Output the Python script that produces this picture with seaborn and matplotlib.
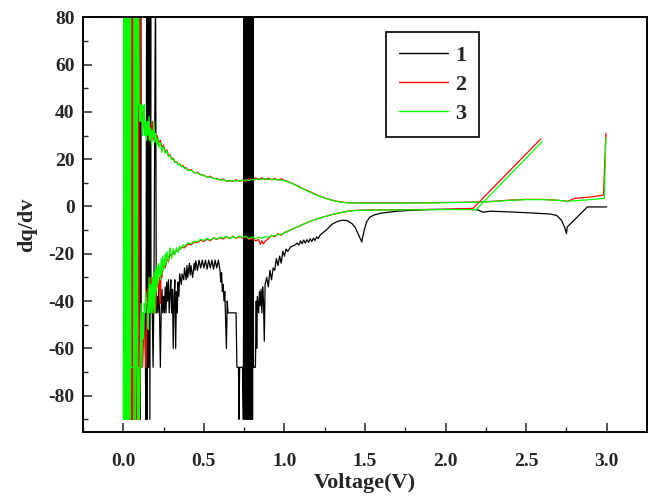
import matplotlib
matplotlib.use("Agg")
import matplotlib.pyplot as plt
import seaborn as sns
import pandas as pd
from matplotlib.ticker import MultipleLocator, FormatStrFormatter

# ---------------- data (Voltage V, dq/dv) ----------------
curve_names = ["1", "2", "3"]
curve_colors = ["#000000", "#ff0000", "#00ff00"]

black_pts = [
    (0.045, 95), (0.047, -90), (0.05, 95), (0.053, -90), (0.056, 95), (0.06, -68), (0.063, 95), (0.066, -90), (0.075, 95), (0.077, -68),
    (0.09, -68), (0.1, 95), (0.104, -90), (0.108, 95), (0.112, -68), (0.125, -45), (0.135, -45), (0.14, -90), (0.145, 95), (0.148, -90),
    (0.152, 95), (0.156, -68), (0.16, 95), (0.165, -90), (0.17, 95), (0.172, -45), (0.18, -45), (0.185, -68), (0.19, -38), (0.2, 95),
    (0.205, -45), (0.21, -38), (0.215, -45), (0.22, -35), (0.225, -45), (0.23, -68), (0.235, -45), (0.24, -35), (0.245, -45), (0.25, -38),
    (0.255, -45), (0.26, -34), (0.265, -45), (0.27, -32), (0.275, -40), (0.28, -31), (0.285, -45), (0.29, -37), (0.295, -31), (0.3, -45),
    (0.305, -35), (0.31, -60), (0.315, -38), (0.32, -31), (0.325, -60), (0.33, -36), (0.335, -45), (0.34, -32), (0.345, -38), (0.35, -28.5),
    (0.36, -33), (0.365, -28.5), (0.375, -31), (0.38, -26), (0.39, -31), (0.395, -25), (0.4, -30), (0.41, -24), (0.415, -29), (0.42, -25),
    (0.43, -30), (0.44, -24), (0.445, -27), (0.45, -23), (0.46, -27), (0.47, -22.7), (0.48, -26), (0.49, -22.7), (0.5, -26), (0.51, -22.7),
    (0.52, -26.5), (0.53, -22.7), (0.54, -26), (0.55, -22.7), (0.56, -26.5), (0.57, -22.7), (0.58, -26), (0.59, -22.7), (0.6, -27), (0.605, -32),
    (0.61, -28), (0.615, -36), (0.62, -33), (0.625, -40), (0.63, -36), (0.64, -60), (0.645, -40), (0.65, -45), (0.7, -45), (0.705, -68),
    (0.715, -68), (0.718, -90), (0.722, -68), (0.74, -68), (0.745, -90), (0.75, 95), (0.754, -90), (0.758, 95), (0.762, -90), (0.766, 95),
    (0.77, -90), (0.774, 95), (0.778, -90), (0.782, 95), (0.786, -90), (0.79, 95), (0.794, -90), (0.798, 95), (0.802, -90), (0.806, 95),
    (0.808, -68), (0.82, -68), (0.825, -40), (0.828, -60), (0.832, -38), (0.84, -45), (0.845, -36), (0.85, -42), (0.855, -35), (0.86, -45),
    (0.865, -34), (0.87, -40), (0.875, -57), (0.88, -33), (0.89, -30), (0.9, -34), (0.91, -27), (0.92, -31), (0.93, -26), (0.94, -27),
    (0.95, -22), (0.96, -25), (0.97, -21), (0.98, -24), (0.99, -19), (1.0, -21), (1.01, -18), (1.02, -19), (1.04, -17), (1.06, -16.5),
    (1.08, -15.5), (1.09, -16.3), (1.1, -14.5), (1.11, -15.8), (1.12, -14.2), (1.13, -15.5), (1.14, -14), (1.15, -15.2), (1.16, -13.6), (1.17, -14.8),
    (1.18, -13.4), (1.19, -14.4), (1.2, -12.8), (1.21, -13.6), (1.22, -12.2), (1.24, -11), (1.26, -10), (1.28, -8.5), (1.3, -7.3), (1.33, -6.3),
    (1.36, -5.8), (1.39, -6), (1.42, -7.3), (1.44, -9), (1.46, -12), (1.48, -15), (1.495, -10), (1.51, -6.5), (1.53, -4.5), (1.56, -3.5),
    (1.6, -2.8), (1.7, -2), (1.8, -1.6), (1.9, -1.3), (2.0, -1.2), (2.1, -1.1), (2.2, -1.4), (2.23, -2.4), (2.28, -2.0), (2.4, -2.3),
    (2.55, -2.8), (2.65, -3.2), (2.69, -3.8), (2.72, -5.9), (2.74, -9), (2.75, -11.5), (2.755, -8.7), (2.88, -0.2), (3.0, -0.2),
]

red_charge = [
    (0.004, 95), (0.008, -90), (0.012, 95), (0.016, -90), (0.05, -90), (0.052, 95), (0.056, -90), (0.06, 95), (0.064, -68), (0.068, 95),
    (0.072, -90), (0.076, 95), (0.08, 43), (0.085, 43), (0.088, 95), (0.09, 36), (0.093, -68), (0.096, 95), (0.1, 36), (0.104, 95),
    (0.108, 36), (0.112, 43), (0.12, 36), (0.125, 40), (0.13, 33), (0.135, 36), (0.14, 30), (0.15, 36), (0.16, 28), (0.165, 35),
    (0.17, 29), (0.18, 36), (0.185, 28), (0.19, 33), (0.2, 29), (0.21, 30), (0.22, 27), (0.23, 28), (0.24, 25), (0.25, 26),
    (0.26, 23), (0.27, 24), (0.28, 21.5), (0.29, 22), (0.3, 20), (0.31, 20.5), (0.32, 18.8), (0.33, 19), (0.34, 17.8), (0.35, 18),
    (0.36, 17), (0.37, 17.3), (0.38, 16.2), (0.39, 16.5), (0.4, 15.3), (0.42, 15.6), (0.44, 14.2), (0.46, 14.5), (0.48, 13.5), (0.5, 13.2),
    (0.52, 12.4), (0.54, 12.8), (0.56, 11.8), (0.58, 11.9), (0.6, 11.2), (0.62, 11.6), (0.64, 10.7), (0.66, 11.0), (0.68, 10.6), (0.7, 11.3),
    (0.72, 10.7), (0.74, 11.1), (0.76, 10.5), (0.78, 11.8), (0.8, 11.1), (0.82, 12.1), (0.84, 11.3), (0.86, 12.2), (0.88, 11.4), (0.9, 12.0),
    (0.92, 11.3), (0.94, 11.8), (0.96, 11.2), (0.98, 11.7), (1.0, 11.0), (1.02, 10.6), (1.04, 10.0), (1.06, 9.4), (1.08, 8.8), (1.1, 8.0),
    (1.13, 7.1), (1.16, 6.2), (1.2, 4.9), (1.25, 3.6), (1.3, 2.6), (1.35, 1.9), (1.4, 1.6), (1.5, 1.5), (1.7, 1.5), (1.9, 1.6),
    (2.1, 1.8), (2.2, 1.9), (2.3, 2.2), (2.4, 2.7), (2.5, 3.0), (2.6, 3.0), (2.7, 2.6), (2.76, 2.2), (2.8, 3.4), (2.9, 4.0),
    (2.98, 4.8), (2.995, 31),
]

red_discharge = [
    (2.59, 28.5), (2.17, -0.8), (2.0, -1.2), (1.8, -1.3), (1.6, -1.4), (1.45, -1.6), (1.4, -1.9), (1.35, -2.6), (1.3, -3.3), (1.25, -4.3),
    (1.2, -5.3), (1.15, -6.6), (1.1, -8.0), (1.05, -9.6), (1.0, -11), (0.98, -12.2), (0.96, -11.5), (0.94, -12.8), (0.92, -12.2), (0.9, -13.6),
    (0.88, -14.8), (0.87, -15.8), (0.86, -14.5), (0.85, -16), (0.84, -14), (0.82, -14.5), (0.8, -13.5), (0.78, -14), (0.76, -12.8), (0.74, -13.4),
    (0.72, -12.8), (0.7, -13.5), (0.68, -12.6), (0.66, -13.6), (0.64, -12.8), (0.62, -13.8), (0.6, -13.2), (0.58, -14), (0.56, -13.4), (0.54, -14.5),
    (0.52, -13.8), (0.5, -14.8), (0.48, -14.2), (0.46, -15.3), (0.44, -15), (0.42, -16.2), (0.4, -16), (0.38, -17.5), (0.36, -17.2), (0.34, -18.8),
    (0.32, -19), (0.3, -21), (0.29, -20), (0.28, -23.5), (0.27, -22), (0.26, -26), (0.25, -24), (0.24, -30), (0.235, -27), (0.23, -41),
    (0.225, -30), (0.22, -35), (0.21, -30), (0.2, -45), (0.19, -33), (0.18, -45), (0.17, -30), (0.16, -45), (0.15, -35), (0.14, -68),
    (0.13, -45), (0.12, -68), (0.11, -45), (0.1, -90), (0.095, 95), (0.09, -90), (0.085, -68), (0.08, -90), (0.075, 95), (0.07, -90),
    (0.065, -68), (0.06, -90), (0.05, 95), (0.04, -90),
]

green_charge = [
    (0.0, -90), (0.003, 95), (0.006, -90), (0.009, 95), (0.012, -90), (0.015, 95), (0.018, -90), (0.021, 95), (0.024, -90), (0.027, 95),
    (0.03, -90), (0.033, 95), (0.036, -90), (0.039, 95), (0.042, -90), (0.045, 95), (0.047, -68), (0.066, -68), (0.068, 95), (0.072, -45),
    (0.075, 95), (0.078, 67), (0.082, 95), (0.086, 67), (0.09, 43), (0.094, 95), (0.098, 43), (0.102, 36), (0.106, 43), (0.11, 36),
    (0.115, 43), (0.12, 30), (0.125, 36), (0.13, 43), (0.135, 30), (0.14, 36), (0.145, 28), (0.15, 36), (0.155, 30), (0.16, 38),
    (0.165, 28), (0.17, 33), (0.175, 26), (0.18, 32), (0.185, 29), (0.19, 36), (0.195, 27), (0.2, 31), (0.21, 26), (0.215, 29),
    (0.22, 25), (0.23, 27), (0.24, 23), (0.25, 25.5), (0.26, 22.5), (0.27, 23.5), (0.28, 21), (0.29, 21.8), (0.3, 19.8), (0.31, 20.2),
    (0.32, 18.5), (0.33, 18.9), (0.34, 17.5), (0.35, 17.9), (0.36, 16.8), (0.37, 17.0), (0.38, 16.0), (0.39, 16.2), (0.4, 15.2), (0.42, 15.3),
    (0.44, 14.3), (0.46, 14.2), (0.48, 13.4), (0.5, 13.0), (0.52, 12.5), (0.54, 12.4), (0.56, 11.9), (0.58, 11.6), (0.6, 11.3), (0.62, 11.2),
    (0.64, 10.9), (0.66, 10.7), (0.68, 10.9), (0.7, 10.8), (0.72, 11.0), (0.74, 10.8), (0.76, 11.2), (0.78, 11.0), (0.8, 11.5), (0.82, 11.3),
    (0.84, 11.7), (0.86, 11.4), (0.88, 11.8), (0.9, 11.4), (0.92, 11.6), (0.94, 11.3), (0.96, 11.4), (0.98, 11.1), (1.0, 10.9), (1.02, 10.5),
    (1.04, 9.9), (1.06, 9.3), (1.08, 8.6), (1.1, 7.9), (1.13, 7.0), (1.16, 6.0), (1.2, 4.8), (1.25, 3.5), (1.3, 2.5), (1.35, 1.8),
    (1.4, 1.5), (1.5, 1.4), (1.7, 1.4), (1.9, 1.5), (2.1, 1.7), (2.2, 1.8), (2.3, 2.1), (2.4, 2.6), (2.5, 2.9), (2.6, 2.9),
    (2.7, 2.6), (2.76, 2.2), (2.9, 2.9), (2.985, 3.4), (2.995, 29),
]

green_discharge = [
    (2.6, 27.5), (2.19, -1.3), (2.0, -1.3), (1.8, -1.4), (1.6, -1.5), (1.45, -1.7), (1.4, -2.0), (1.35, -2.6), (1.3, -3.3), (1.25, -4.3),
    (1.2, -5.3), (1.15, -6.6), (1.1, -8.0), (1.05, -9.6), (1.0, -11.2), (0.98, -11.8), (0.96, -11.9), (0.94, -12.4), (0.92, -12.3), (0.9, -13.0),
    (0.88, -12.8), (0.86, -13.4), (0.84, -13.0), (0.82, -13.6), (0.8, -12.9), (0.78, -13.6), (0.76, -12.6), (0.74, -13.2), (0.72, -12.5), (0.7, -13.3),
    (0.68, -12.8), (0.66, -13.5), (0.64, -12.6), (0.62, -13.4), (0.6, -13.0), (0.58, -13.8), (0.56, -13.2), (0.54, -14.2), (0.52, -13.5), (0.5, -14.4),
    (0.48, -13.8), (0.46, -15.0), (0.44, -14.6), (0.42, -15.8), (0.4, -15.4), (0.38, -17.0), (0.37, -16.2), (0.36, -18.0), (0.35, -16.8), (0.34, -19.5),
    (0.33, -17.5), (0.32, -20.5), (0.31, -18), (0.3, -22), (0.29, -17.5), (0.28, -23), (0.27, -19), (0.265, -25), (0.26, -20), (0.25, -27),
    (0.245, -21), (0.24, -29), (0.235, -22), (0.23, -31), (0.22, -24), (0.215, -33), (0.21, -25), (0.205, -36), (0.2, -27), (0.195, -45),
    (0.19, -28), (0.185, -45), (0.18, -30), (0.175, -45), (0.17, -33), (0.165, -45), (0.16, -30), (0.155, -52), (0.15, -45), (0.14, -36),
    (0.135, -45), (0.13, -41), (0.125, -56), (0.12, -45), (0.115, -68), (0.11, -41), (0.1, -90), (0.095, -68), (0.09, -90), (0.085, 95),
    (0.08, -68), (0.075, -90), (0.07, 95), (0.065, -90),
]

x_ticks = [0.0, 0.5, 1.0, 1.5, 2.0, 2.5, 3.0]
y_ticks = [-80, -60, -40, -20, 0, 20, 40, 60, 80]

# ---------------- build long table ----------------
segments = [
    ("1", "1", black_pts),
    ("2", "2c", red_charge),
    ("2", "2d", red_discharge),
    ("3", "3c", green_charge),
    ("3", "3d", green_discharge),
]
rows = []
for curve, seg, pts in segments:
    for v, d in pts:
        rows.append({"Voltage": v, "dqdv": d, "curve": curve, "seg": seg})
df = pd.DataFrame(rows)

# ---------------- style ----------------
sns.set_style("ticks")
plt.rcParams["font.family"] = ["Liberation Serif", "DejaVu Serif"]
plt.rcParams["font.weight"] = "bold"
plt.rcParams["axes.unicode_minus"] = False

fig = plt.figure(figsize=(6.48, 4.97), dpi=100)
ax = fig.add_axes([83 / 648, (497 - 432.3) / 497, (647 - 83) / 648, (432.3 - 17.3) / 497])

sns.lineplot(
    data=df, x="Voltage", y="dqdv", hue="curve", units="seg", estimator=None, sort=False,
    hue_order=curve_names, palette=dict(zip(curve_names, curve_colors)),
    linewidth=0.9, ax=ax,
)

ax.set_xlim(-0.25, 3.25)
ax.set_ylim(-95.5, 80)
ax.set_xticks(x_ticks)
ax.set_yticks(y_ticks)
ax.xaxis.set_minor_locator(MultipleLocator(0.25))
ax.yaxis.set_minor_locator(MultipleLocator(10))
ax.xaxis.set_major_formatter(FormatStrFormatter("%.1f"))
ax.yaxis.set_major_formatter(FormatStrFormatter("%d"))

for s in ax.spines.values():
    s.set_linewidth(1.4)
    s.set_color("black")
ax.tick_params(axis="both", which="major", direction="in", length=6.5, width=1.1,
               labelsize=14, top=False, right=False)
ax.tick_params(axis="both", which="minor", direction="in", length=3.5, width=1.0,
               top=False, right=False)
ax.tick_params(axis="x", which="major", pad=15)
ax.tick_params(axis="y", which="major", pad=6)
for lab in ax.get_xticklabels() + ax.get_yticklabels():
    lab.set_fontweight("bold")

ax.set_xlabel("Voltage(V)", fontsize=16, fontweight="bold", labelpad=2)
ax.set_ylabel("dq/dv", fontsize=16, fontweight="bold", labelpad=8)

handles, labels = ax.get_legend_handles_labels()
leg = ax.legend(handles, labels, loc="upper left", bbox_to_anchor=(0.537, 0.965),
                frameon=True, fancybox=False, framealpha=1, edgecolor="black",
                prop={"family": "Liberation Serif", "weight": "bold", "size": 16},
                handlelength=2.2, handletextpad=0.3, labelspacing=0.38, borderpad=0.6,
                borderaxespad=0)
leg.get_frame().set_linewidth(1.2)
for h in leg.get_lines():
    h.set_linewidth(1.0)

fig.savefig("out.png", dpi=100)
